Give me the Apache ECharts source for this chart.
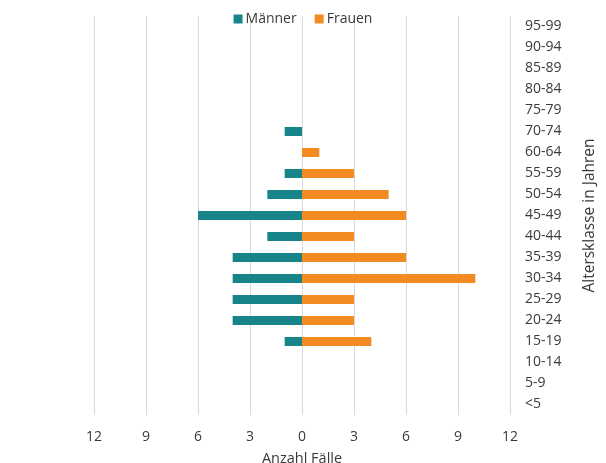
<!DOCTYPE html>
<html>
<head>
<meta charset="utf-8">
<script src="https://cdn.jsdelivr.net/npm/echarts@6/dist/echarts.min.js"></script>
<style>html,body{margin:0;padding:0;background:#fff}#c{width:606px;height:463px}</style>
</head>
<body>
<div id="c"></div>
<script>
const categories = ['<5','5-9','10-14','15-19','20-24','25-29','30-34','35-39','40-44','45-49','50-54','55-59','60-64','70-74','75-79','80-84','85-89','90-94','95-99'];
const maenner = [0,0,0,-1,-4,-4,-4,-4,-2,-6,-2,-1,0,-1,0,0,0,0,0];
const frauen  = [0,0,0,4,3,3,10,6,3,6,5,3,1,0,0,0,0,0,0];
const xTicks = [-12,-9,-6,-3,0,3,6,9,12];

const font = 'Open Sans';
const tc = '#3a3a3a';
const chart = echarts.init(document.getElementById('c'), null, {renderer:'canvas'});
chart.setOption({
  animation: false,
  textStyle: {fontFamily: font},
  legend: {
    top: 7, left: 'center', itemWidth: 9, itemHeight: 9, itemGap: 18,
    icon: 'rect',
    textStyle: {fontFamily: font, fontSize: 14, color: tc, padding:[0,0,0,-2]},
    data: ['Männer','Frauen']
  },
  grid: {left: 94, right: 96, top: 16, bottom: 48, containLabel: false, outerBoundsMode: 'none'},
  xAxis: {
    type: 'value', min: xTicks[0], max: xTicks[xTicks.length-1], interval: 3,
    name: 'Anzahl Fälle', nameLocation: 'middle', nameGap: 36,
    nameTextStyle: {fontFamily: font, fontSize: 14.5, color: tc},
    axisLine: {show: false}, axisTick: {show: false},
    axisLabel: {formatter: v => Math.abs(v), fontFamily: font, fontSize: 14, color: tc, margin: 15},
    splitLine: {show: true, lineStyle: {color: '#d9d9d9', width: 1}}
  },
  yAxis: {
    type: 'category', data: categories, position: 'right',
    name: 'Altersklasse in Jahren', nameLocation: 'middle', nameRotate: 90, nameGap: 72,
    nameTextStyle: {fontFamily: font, fontSize: 15.5, color: tc},
    axisLine: {show: false}, axisTick: {show: false},
    axisLabel: {fontFamily: font, fontSize: 14, color: tc, margin: 15, align: 'left'},
    splitLine: {show: false}
  },
  series: [
    {name: 'Männer', type: 'bar', stack: 'a', data: maenner, barWidth: 9,
     itemStyle: {color: '#168489'}},
    {name: 'Frauen', type: 'bar', stack: 'a', data: frauen, barWidth: 9,
     itemStyle: {color: '#f28b21'}}
  ]
});
</script>
</body>
</html>
